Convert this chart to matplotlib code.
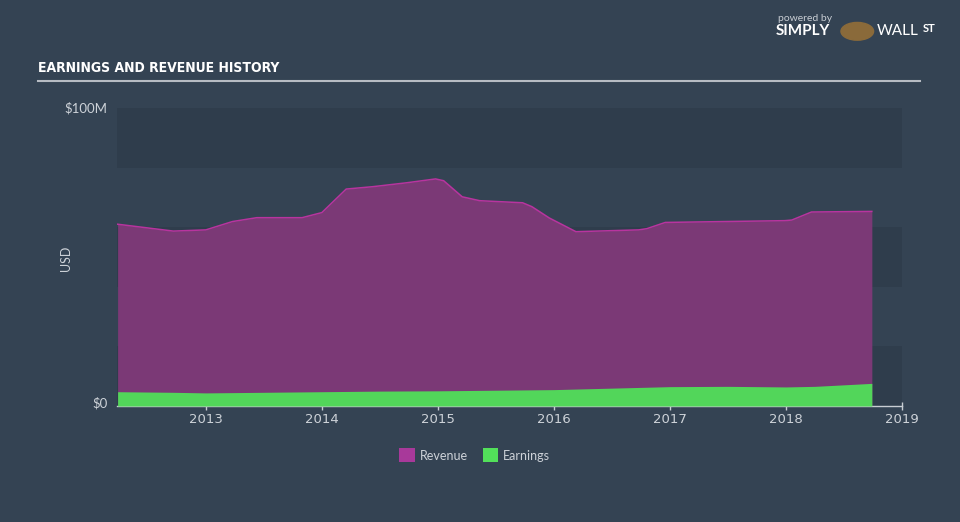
import numpy as np
import matplotlib.pyplot as plt
from matplotlib.patches import Rectangle

# revenue (USD millions) at decimal years
rev_t = [2012.24, 2012.72, 2013.0, 2013.23, 2013.44, 2013.83, 2014.0, 2014.21,
         2014.44, 2014.73, 2014.98, 2015.05, 2015.21, 2015.36, 2015.73, 2015.81,
         2015.96, 2016.19, 2016.73, 2016.80, 2016.96, 2017.99, 2018.05, 2018.22,
         2018.74]
rev_v = [61.0, 58.7, 59.1, 61.9, 63.2, 63.2, 64.9, 72.8,
         73.6, 74.9, 76.2, 75.6, 70.2, 68.9, 68.2, 66.9,
         63.1, 58.5, 59.1, 59.5, 61.6, 62.2, 62.4, 65.1,
         65.3]

earn_t = [2012.24, 2012.72, 2013.0, 2013.5, 2014.0, 2014.5, 2015.0, 2015.5,
          2016.0, 2016.5, 2017.0, 2017.5, 2018.0, 2018.25, 2018.74]
earn_v = [4.8, 4.6, 4.4, 4.6, 4.8, 5.0, 5.1, 5.3,
          5.5, 6.0, 6.5, 6.6, 6.4, 6.6, 7.6]

years = [2013, 2014, 2015, 2016, 2017, 2018, 2019]

bg = '#344353'
band = '#2f3d4c'
txt = '#cdd2d8'

fig = plt.figure(figsize=(9.6, 5.22), dpi=100, facecolor=bg)
ax = fig.add_axes([0.1219, 0.2222, 0.8177, 0.5709])
ax.set_facecolor(bg)

x0, x1 = 2012.235, 2019.0
ax.set_xlim(x0, x1)
ax.set_ylim(0, 100)

# alternating horizontal bands
for i, lo in enumerate(range(0, 100, 20)):
    if i % 2 == 0:
        ax.axhspan(lo, lo + 20, color=band, lw=0, zorder=0)

ax.fill_between(rev_t, 0, rev_v, color='#7b3976', lw=0, zorder=2)
ax.plot(rev_t, rev_v, color='#b8349f', lw=1.1, zorder=3)
ax.fill_between(earn_t, 0, earn_v, color='#52d65a', lw=0, zorder=4)

for s in ['top', 'right', 'left']:
    ax.spines[s].set_visible(False)
ax.spines['bottom'].set_color('#c8cdd3')
ax.spines['bottom'].set_linewidth(1)
ax.set_xticks(years)
ax.set_xticklabels([str(y) for y in years])
ax.tick_params(axis='x', colors='#c8cdd3', labelcolor=txt, labelsize=9.5,
               length=6, width=1, direction='inout', pad=2)
ax.set_yticks([])

ax.text(-0.012, 1.0, '$100M', transform=ax.transAxes, ha='right', va='center',
        color=txt, fontsize=9.5, family='Lato')
ax.text(-0.012, 0.01, '$0', transform=ax.transAxes, ha='right', va='center',
        color=txt, fontsize=9.5, family='Lato')
fig.text(0.069, 0.505, 'USD', rotation=90, ha='center', va='center',
         color=txt, fontsize=9, family='Lato')

# title and rule
fig.text(0.040, 0.869, 'EARNINGS AND REVENUE HISTORY', ha='left', va='center',
         color='white', fontsize=10, fontweight='bold', fontstretch='condensed',
         family=['DejaVu Sans'])
fig.add_artist(plt.Line2D([0.040, 0.958], [0.845, 0.845], color='#b7bcc3', lw=1.5))

# legend
fig.add_artist(Rectangle((0.416, 0.115), 0.016, 0.026, transform=fig.transFigure,
                         color='#a8399a', lw=0))
fig.text(0.437, 0.127, 'Revenue', ha='left', va='center', color=txt, fontsize=9,
         family='Lato')
fig.add_artist(Rectangle((0.503, 0.115), 0.016, 0.026, transform=fig.transFigure,
                         color='#52e05a', lw=0))
fig.text(0.524, 0.127, 'Earnings', ha='left', va='center', color=txt, fontsize=9,
         family='Lato')

# branding
fig.text(0.81, 0.965, 'powered by', ha='left', va='center', color='#c8cdd3',
         fontsize=7.5, family='Lato')
fig.text(0.808, 0.94, 'SIMPLY', ha='left', va='center', color='white',
         fontsize=11, fontweight='bold', family='Lato')
fig.text(0.913, 0.94, 'WALL', ha='left', va='center', color='white',
         fontsize=11, family='Lato')
fig.text(0.961, 0.945, 'ST', ha='left', va='center', color='white',
         fontsize=8, fontweight='bold', family='Lato')
fig.add_artist(plt.Circle((0.893, 0.94), 0.017, transform=fig.transFigure,
                          color='#8a6a3a'))

fig.savefig('out.png', dpi=100, facecolor=bg)
